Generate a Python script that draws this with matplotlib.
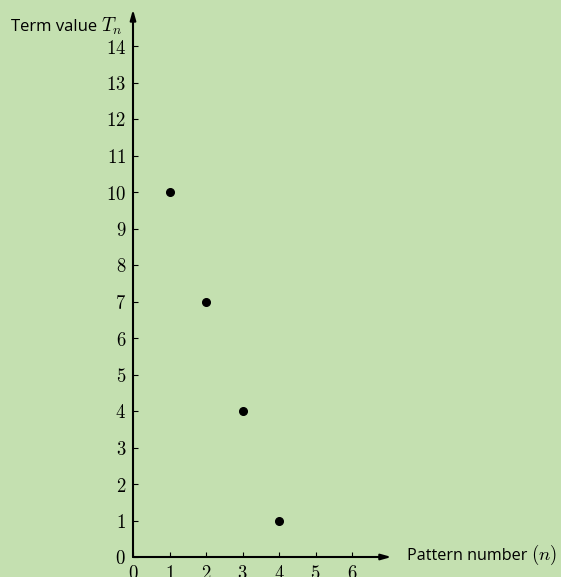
import matplotlib.pyplot as plt

# data
pattern_n = [1, 2, 3, 4]
term_values = [10, 7, 4, 1]
x_ticks = [0, 1, 2, 3, 4, 5, 6]
y_ticks = list(range(0, 15))

BG = "#c4e0b0"
W, H = 561, 577
PX = 36.5  # pixels per unit on both axes
X0, Y0 = 133, 557  # origin in pixels (from top-left)
XMAX, YMAX = 7.08, 15.0

plt.rcParams["mathtext.fontset"] = "cm"

fig = plt.figure(figsize=(W / 100, H / 100), dpi=100, facecolor=BG)
ax = fig.add_axes([X0 / W, (H - Y0) / H, XMAX * PX / W, YMAX * PX / H])
ax.set_facecolor(BG)
ax.set_xlim(0, XMAX)
ax.set_ylim(0, YMAX)
for s in ax.spines.values():
    s.set_visible(False)

# axes with arrows
arrow = dict(arrowstyle="-|>,head_length=0.6,head_width=0.17", color="black", lw=1.5,
             shrinkA=0, shrinkB=0)
ax.annotate("", xy=(XMAX, 0), xytext=(0, 0), arrowprops=arrow, annotation_clip=False)
ax.annotate("", xy=(0, YMAX), xytext=(0, 0), arrowprops=arrow, annotation_clip=False)

ax.set_xticks(x_ticks)
ax.set_yticks(y_ticks)
ax.set_xticklabels([f"${v}$" for v in x_ticks])
ax.set_yticklabels([f"${v}$" for v in y_ticks])
ax.tick_params(direction="in", length=3.5, width=0.8, labelsize=13.5, pad=5)

ax.plot(pattern_n, term_values, "o", color="black", markersize=5.5, clip_on=False)

# axis labels: sans words followed by a math part, sharing a baseline
ty, py = 14.4, -0.07
tn = ax.text(-0.3, ty, "$T_n$", ha="right", va="baseline", fontsize=14)
ax.annotate("Term value", xy=(0, ty), xycoords=(tn, "data"), xytext=(-3, 0),
            textcoords="offset points", ha="right", va="baseline",
            fontsize=12, family="Open Sans")
pn = ax.text(XMAX + 0.44, py, "Pattern number", ha="left", va="baseline",
             fontsize=11.6, family="Open Sans")
ax.annotate("$(n)$", xy=(1, py), xycoords=(pn, "data"), xytext=(2, 0),
            textcoords="offset points", ha="left", va="baseline", fontsize=13.5)

fig.savefig("out.png", dpi=100, facecolor=BG)
